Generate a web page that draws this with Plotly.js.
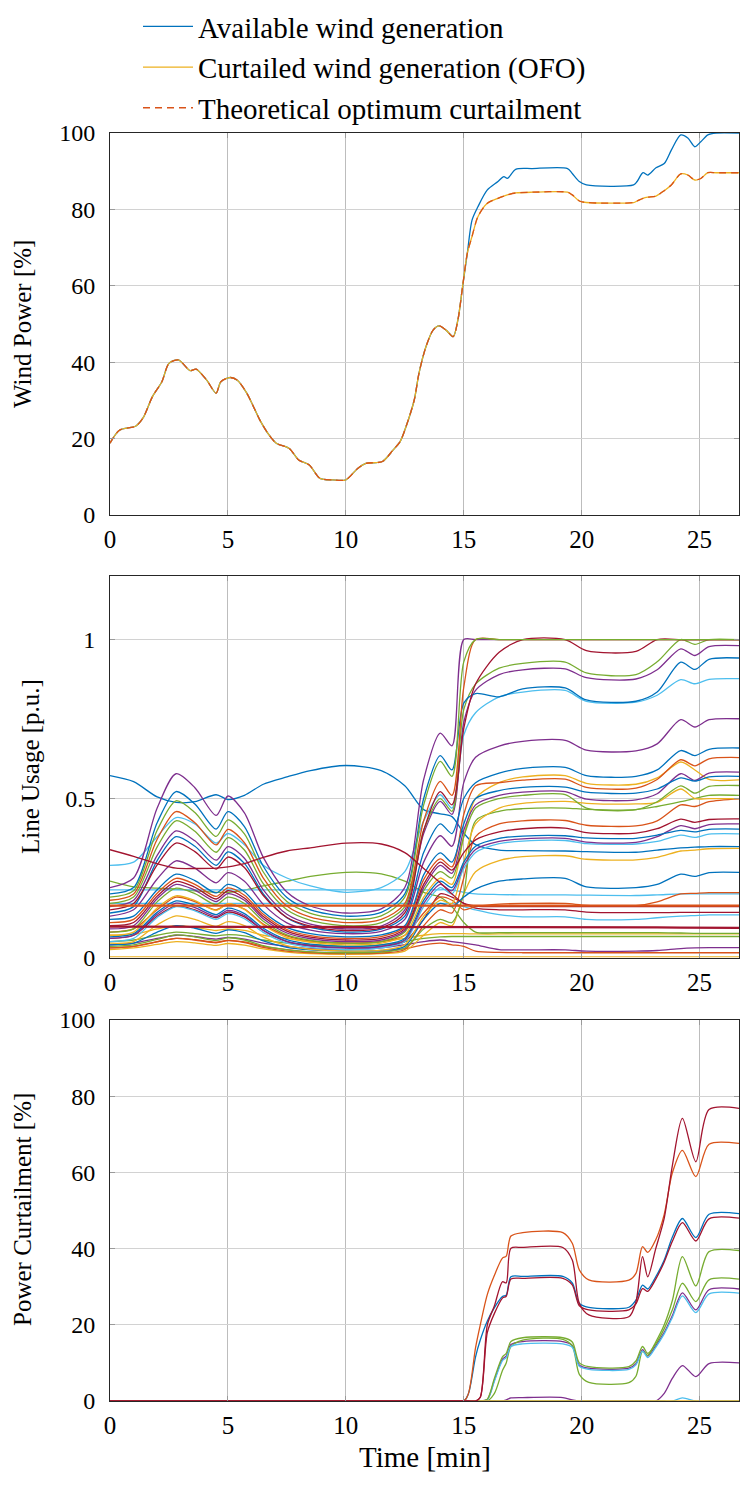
<!DOCTYPE html>
<html>
<head>
<meta charset="utf-8">
<script src="https://cdn.plot.ly/plotly-3.0.1.min.js"></script>
<style>
  html, body { margin: 0; padding: 0; background: #fff; }
  #chart { width: 740px; height: 1486px; }
</style>
</head>
<body>
<div id="chart"></div>
<script>
// MATLAB default colours
const BLUE = '#0072BD', ORANGE = '#D95319', YELLOW = '#EDB120', PURPLE = '#7E2F8E',
      GREEN = '#77AC30', LBLUE = '#4DBEEE', DRED = '#A2142F';

// ---- panel 1 : wind power [%] ----
const timeWind = [0, 0.4, 1.1, 1.4, 1.8, 2.2, 2.5, 2.9, 3.4, 3.65, 4.1, 4.5, 4.7, 5.1, 5.4, 5.8, 6.05, 6.35, 6.75, 7.05,
  7.6, 8.0, 8.45, 8.9, 9.45, 10.0, 10.5, 10.85, 11.55, 12.0, 12.3, 12.55, 12.9, 13.1, 13.4, 13.7, 13.95, 14.25, 14.55, 14.75,
  14.95, 15.15, 15.35, 15.6, 16.0, 16.45, 16.7, 16.85, 17.2, 17.9, 19.4, 19.6, 19.9, 20.2, 22.2, 22.35, 22.6, 22.8, 23.15, 23.5,
  23.8, 24.2, 24.5, 24.8, 25.05, 25.35, 25.7, 26.67];
const availableWind = [18.8, 22.2, 23.3, 25.4, 31, 34.9, 39.7, 40.6, 37.8, 38.2, 35.3, 31.9, 34.9, 36, 35.3, 31.9, 28.8, 24.9, 20.9, 18.8,
  17.4, 14.4, 13.1, 9.6, 9.2, 9.2, 12.2, 13.5, 14, 17, 19.2, 23.1, 30.1, 37.1, 44.1, 48.4, 49.5, 48.4, 46.7, 51,
  59.8, 68.5, 77.2, 80.7, 85.1, 87.3, 88.6, 88.1, 90.5, 90.7, 90.7, 89.4, 87.3, 86.4, 86.4, 87.3, 89.6, 89, 90.9, 92,
  95.5, 99.5, 98.7, 96.4, 97.7, 99.5, 100, 100];
const curtailedOFO = [18.8, 22.2, 23.3, 25.4, 31, 34.9, 39.7, 40.6, 37.8, 38.2, 35.3, 31.9, 34.9, 36, 35.3, 31.9, 28.8, 24.9, 20.9, 18.8,
  17.4, 14.4, 13.1, 9.6, 9.2, 9.2, 12.2, 13.5, 14, 17, 19.2, 23.1, 30.1, 37.1, 44.1, 48.4, 49.5, 48.4, 46.7, 51,
  59.8, 68.5, 72.9, 78.1, 81.6, 82.9, 83.5, 83.8, 84.3, 84.5, 84.5, 83.8, 82.2, 81.8, 81.8, 82.2, 82.9, 83.2, 83.5, 84.9,
  86.4, 89.3, 89, 87.7, 88.1, 89.6, 89.6, 89.6];
const theoreticalOpt = [18.8, 22.2, 23.3, 25.4, 31, 34.9, 39.7, 40.6, 37.8, 38.2, 35.3, 31.9, 34.9, 36, 35.3, 31.9, 28.8, 24.9, 20.9, 18.8,
  17.4, 14.4, 13.1, 9.6, 9.2, 9.2, 12.2, 13.5, 14, 17, 19.2, 23.1, 30.1, 37.1, 44.1, 48.4, 49.5, 48.4, 46.7, 51,
  59.8, 68.5, 72.9, 78.1, 81.6, 82.9, 83.5, 83.8, 84.3, 84.5, 84.5, 83.8, 82.2, 81.8, 81.8, 82.2, 82.9, 83.2, 83.5, 84.9,
  86.4, 89.3, 89, 87.7, 88.1, 89.6, 89.6, 89.6];

// ---- panel 2 : line usage [p.u.] ----
const timeLine = [0, 1, 2, 2.8, 3.6, 4.5, 5.0, 5.7, 6.5, 7.5, 8.5, 10, 11.5, 12.5, 13.3, 14.0, 14.5,
  15.0, 15.5, 16.5, 17.5, 19.3, 20.2, 22.3, 23.2, 24.2, 24.8, 25.4, 26.67];
const lineB0 = [0.572, 0.553, 0.505, 0.488, 0.49, 0.512, 0.497, 0.51, 0.545, 0.568, 0.588, 0.604, 0.588, 0.54, 0.465, 0.452, 0.443,
  0.391, 0.355, 0.338, 0.336, 0.335, 0.333, 0.331, 0.338, 0.345, 0.347, 0.349, 0.349];
const lineB1 = [0.20, 0.22, 0.424, 0.522, 0.483, 0.404, 0.459, 0.412, 0.287, 0.189, 0.15, 0.13, 0.142, 0.2, 0.5, 0.635, 0.59,
  0.80, 0.83, 0.82, 0.845, 0.848, 0.81, 0.806, 0.835, 0.929, 0.906, 0.938, 0.942];
const lineB3 = [0.14, 0.16, 0.305, 0.38, 0.35, 0.29, 0.332, 0.296, 0.20, 0.125, 0.095, 0.08, 0.089, 0.13, 0.33, 0.42, 0.39,
  0.50, 0.55, 0.58, 0.595, 0.598, 0.572, 0.570, 0.59, 0.651, 0.635, 0.655, 0.659];
const lineB4 = [0.12, 0.13, 0.213, 0.262, 0.242, 0.203, 0.23, 0.207, 0.144, 0.095, 0.075, 0.065, 0.071, 0.1, 0.26, 0.329, 0.30,
  0.42, 0.50, 0.525, 0.535, 0.536, 0.52, 0.517, 0.53, 0.565, 0.555, 0.568, 0.570];
const lineB5 = [0.065, 0.075, 0.142, 0.178, 0.164, 0.135, 0.155, 0.138, 0.092, 0.056, 0.042, 0.035, 0.04, 0.06, 0.18, 0.24, 0.22,
  0.30, 0.35, 0.375, 0.382, 0.383, 0.376, 0.375, 0.385, 0.40, 0.395, 0.403, 0.404];
const lineB6 = [0.04, 0.045, 0.08, 0.10, 0.092, 0.076, 0.087, 0.078, 0.052, 0.032, 0.024, 0.02, 0.022, 0.035, 0.12, 0.17, 0.16,
  0.19, 0.215, 0.24, 0.247, 0.249, 0.222, 0.22, 0.23, 0.262, 0.255, 0.267, 0.268];
const lineO1 = [0.18, 0.2, 0.372, 0.459, 0.424, 0.354, 0.403, 0.361, 0.25, 0.162, 0.127, 0.11, 0.12, 0.17, 0.43, 0.554, 0.51,
  0.85, 1.0, 1.0, 1.0, 1.0, 1.0, 1.0, 1.0, 1.0, 1.0, 1.0, 1.0];
const lineO2 = [0.11, 0.12, 0.202, 0.249, 0.23, 0.192, 0.219, 0.196, 0.136, 0.088, 0.069, 0.06, 0.066, 0.095, 0.245, 0.31, 0.285,
  0.45, 0.54, 0.55, 0.558, 0.561, 0.535, 0.533, 0.56, 0.622, 0.603, 0.625, 0.629];
const lineO3 = [0.03, 0.035, 0.049, 0.06, 0.055, 0.046, 0.053, 0.047, 0.032, 0.02, 0.015, 0.012, 0.014, 0.025, 0.10, 0.15, 0.14,
  0.25, 0.38, 0.42, 0.43, 0.431, 0.416, 0.414, 0.43, 0.48, 0.475, 0.49, 0.499];
const lineO4 = [0.08, 0.09, 0.15, 0.19, 0.176, 0.15, 0.168, 0.152, 0.105, 0.068, 0.052, 0.045, 0.05, 0.07, 0.14, 0.19, 0.18,
  0.15, 0.16, 0.168, 0.17, 0.17, 0.164, 0.163, 0.175, 0.2, 0.202, 0.204, 0.204];
const lineO5 = [0.163, 0.163, 0.163, 0.163, 0.163, 0.163, 0.163, 0.163, 0.163, 0.163, 0.163, 0.163, 0.163, 0.163, 0.163, 0.163, 0.163,
  0.163, 0.163, 0.163, 0.163, 0.163, 0.163, 0.163, 0.163, 0.163, 0.163, 0.163, 0.163];
const lineO6 = [0.03, 0.035, 0.05, 0.06, 0.056, 0.048, 0.054, 0.049, 0.035, 0.025, 0.018, 0.015, 0.018, 0.028, 0.04, 0.045, 0.04,
  0.035, 0.02, 0.016, 0.015, 0.015, 0.015, 0.015, 0.015, 0.015, 0.015, 0.015, 0.015];
const lineY1 = [0.07, 0.08, 0.156, 0.194, 0.179, 0.148, 0.169, 0.151, 0.102, 0.063, 0.048, 0.04, 0.045, 0.07, 0.19, 0.25, 0.23,
  0.38, 0.50, 0.55, 0.568, 0.572, 0.548, 0.545, 0.565, 0.615, 0.59, 0.56, 0.559];
const lineY2 = [0.045, 0.05, 0.103, 0.131, 0.12, 0.098, 0.113, 0.10, 0.064, 0.037, 0.026, 0.02, 0.023, 0.04, 0.13, 0.18, 0.17,
  0.30, 0.42, 0.47, 0.485, 0.491, 0.485, 0.483, 0.488, 0.53, 0.50, 0.50, 0.50];
const lineY3 = [0.025, 0.03, 0.041, 0.05, 0.046, 0.038, 0.044, 0.039, 0.027, 0.017, 0.012, 0.01, 0.012, 0.02, 0.07, 0.11, 0.10,
  0.2, 0.27, 0.305, 0.317, 0.32, 0.309, 0.307, 0.315, 0.335, 0.338, 0.342, 0.343];
const lineY4 = [0.07, 0.072, 0.09, 0.1, 0.095, 0.085, 0.09, 0.085, 0.07, 0.06, 0.05, 0.045, 0.05, 0.06, 0.07, 0.075, 0.075,
  0.075, 0.074, 0.074, 0.074, 0.074, 0.074, 0.074, 0.074, 0.074, 0.074, 0.074, 0.074];
const lineY5 = [0.002, 0.002, 0.002, 0.002, 0.002, 0.002, 0.002, 0.002, 0.002, 0.002, 0.002, 0.002, 0.002, 0.002, 0.002, 0.002, 0.002,
  0.002, 0.002, 0.002, 0.002, 0.002, 0.002, 0.002, 0.002, 0.002, 0.002, 0.002, 0.002];
const lineP1 = [0.22, 0.25, 0.47, 0.578, 0.534, 0.447, 0.508, 0.455, 0.315, 0.206, 0.162, 0.14, 0.153, 0.22, 0.56, 0.706, 0.666,
  1.0, 1.0, 1.0, 1.0, 1.0, 1.0, 1.0, 1.0, 1.0, 1.0, 1.0, 1.0];
const lineP2 = [0.16, 0.18, 0.321, 0.398, 0.367, 0.306, 0.349, 0.312, 0.213, 0.136, 0.105, 0.09, 0.099, 0.15, 0.39, 0.491, 0.45,
  0.74, 0.84, 0.89, 0.905, 0.908, 0.88, 0.876, 0.905, 0.971, 0.95, 0.978, 0.981];
const lineP3 = [0.13, 0.15, 0.247, 0.304, 0.281, 0.235, 0.267, 0.24, 0.167, 0.109, 0.086, 0.075, 0.082, 0.12, 0.30, 0.383, 0.35,
  0.55, 0.63, 0.665, 0.68, 0.683, 0.652, 0.650, 0.672, 0.748, 0.725, 0.748, 0.751];
const lineP4 = [0.09, 0.10, 0.185, 0.23, 0.212, 0.176, 0.201, 0.18, 0.122, 0.077, 0.059, 0.05, 0.055, 0.085, 0.22, 0.29, 0.265,
  0.40, 0.48, 0.51, 0.52, 0.522, 0.498, 0.496, 0.515, 0.578, 0.557, 0.58, 0.583];
const lineP5 = [0.06, 0.07, 0.136, 0.171, 0.157, 0.129, 0.148, 0.132, 0.086, 0.051, 0.037, 0.03, 0.035, 0.055, 0.17, 0.23, 0.21,
  0.29, 0.34, 0.365, 0.373, 0.375, 0.363, 0.362, 0.38, 0.415, 0.405, 0.418, 0.42];
const lineP6 = [0.04, 0.045, 0.06, 0.07, 0.066, 0.058, 0.063, 0.058, 0.045, 0.035, 0.028, 0.025, 0.03, 0.04, 0.05, 0.055, 0.05,
  0.045, 0.04, 0.025, 0.024, 0.024, 0.02, 0.02, 0.022, 0.028, 0.03, 0.031, 0.031];
const lineG1 = [0.19, 0.21, 0.40, 0.493, 0.456, 0.381, 0.433, 0.389, 0.269, 0.176, 0.139, 0.12, 0.131, 0.19, 0.48, 0.617, 0.57,
  0.93, 1.0, 1.0, 1.0, 1.0, 1.0, 1.0, 1.0, 1.0, 1.0, 1.0, 1.0];
const lineG2 = [0.17, 0.19, 0.348, 0.43, 0.397, 0.331, 0.377, 0.338, 0.232, 0.15, 0.117, 0.10, 0.11, 0.16, 0.40, 0.50, 0.46,
  0.78, 0.86, 0.91, 0.925, 0.929, 0.895, 0.89, 0.93, 1.0, 0.985, 1.0, 1.0];
const lineG3 = [0.08, 0.09, 0.175, 0.218, 0.201, 0.166, 0.19, 0.17, 0.114, 0.071, 0.054, 0.045, 0.05, 0.08, 0.21, 0.27, 0.25,
  0.38, 0.47, 0.50, 0.51, 0.512, 0.47, 0.465, 0.49, 0.54, 0.517, 0.538, 0.541];
const lineG4 = [0.035, 0.04, 0.057, 0.071, 0.065, 0.054, 0.062, 0.055, 0.037, 0.024, 0.018, 0.015, 0.017, 0.03, 0.09, 0.12, 0.11,
  0.2, 0.43, 0.46, 0.468, 0.47, 0.466, 0.465, 0.475, 0.49, 0.50, 0.51, 0.51];
const lineG5 = [0.24, 0.222, 0.218, 0.215, 0.21, 0.205, 0.205, 0.212, 0.225, 0.24, 0.255, 0.268, 0.263, 0.24, 0.205, 0.19, 0.16,
  0.11, 0.08, 0.078, 0.078, 0.078, 0.078, 0.078, 0.078, 0.077, 0.076, 0.076, 0.076];
const lineG6 = [0.05, 0.055, 0.07, 0.08, 0.075, 0.068, 0.072, 0.068, 0.055, 0.045, 0.04, 0.035, 0.04, 0.05, 0.06, 0.065, 0.066,
  0.066, 0.066, 0.066, 0.066, 0.066, 0.066, 0.066, 0.066, 0.066, 0.066, 0.066, 0.066];
const lineC1 = [0.29, 0.30, 0.38, 0.44, 0.42, 0.36, 0.39, 0.355, 0.29, 0.25, 0.225, 0.205, 0.22, 0.27, 0.43, 0.512, 0.47,
  0.70, 0.77, 0.82, 0.835, 0.84, 0.806, 0.803, 0.825, 0.874, 0.861, 0.875, 0.877];
const lineC2 = [0.05, 0.06, 0.126, 0.16, 0.147, 0.12, 0.138, 0.122, 0.079, 0.045, 0.032, 0.025, 0.03, 0.05, 0.16, 0.22, 0.20,
  0.28, 0.33, 0.358, 0.366, 0.368, 0.358, 0.357, 0.365, 0.385, 0.378, 0.388, 0.389];
const lineC3 = [0.213, 0.213, 0.213, 0.213, 0.213, 0.213, 0.213, 0.213, 0.213, 0.213, 0.213, 0.213, 0.213, 0.213, 0.213, 0.213, 0.213,
  0.205, 0.2, 0.198, 0.197, 0.197, 0.196, 0.195, 0.197, 0.2, 0.2, 0.2, 0.2];
const lineC4 = [0.17, 0.17, 0.17, 0.17, 0.17, 0.17, 0.17, 0.17, 0.17, 0.17, 0.17, 0.17, 0.17, 0.17, 0.17, 0.17, 0.17,
  0.16, 0.15, 0.135, 0.128, 0.128, 0.12, 0.12, 0.125, 0.13, 0.132, 0.134, 0.134];
const lineR0 = [0.339, 0.318, 0.295, 0.281, 0.28, 0.281, 0.285, 0.295, 0.315, 0.335, 0.345, 0.36, 0.357, 0.33, 0.28, 0.235, 0.2,
  0.17, 0.162, 0.16, 0.16, 0.16, 0.16, 0.16, 0.16, 0.16, 0.16, 0.16, 0.16];
const lineR1 = [0.15, 0.17, 0.291, 0.36, 0.333, 0.278, 0.316, 0.283, 0.195, 0.126, 0.099, 0.085, 0.093, 0.14, 0.40, 0.522, 0.48,
  0.72, 0.86, 0.96, 1.0, 1.0, 0.965, 0.963, 1.0, 1.0, 1.0, 1.0, 1.0];
const lineR2 = [0.10, 0.11, 0.193, 0.239, 0.221, 0.184, 0.21, 0.187, 0.129, 0.083, 0.064, 0.055, 0.06, 0.09, 0.23, 0.30, 0.275,
  0.33, 0.37, 0.395, 0.405, 0.407, 0.393, 0.391, 0.405, 0.435, 0.425, 0.434, 0.436];
const lineR3 = [0.06, 0.07, 0.13, 0.162, 0.15, 0.125, 0.143, 0.128, 0.085, 0.05, 0.037, 0.03, 0.035, 0.05, 0.12, 0.2, 0.19,
  0.17, 0.155, 0.15, 0.15, 0.15, 0.143, 0.141, 0.141, 0.142, 0.142, 0.142, 0.142];
const lineR4 = [0.097, 0.097, 0.097, 0.097, 0.097, 0.097, 0.097, 0.097, 0.097, 0.097, 0.097, 0.097, 0.097, 0.097, 0.097, 0.097, 0.097,
  0.097, 0.097, 0.097, 0.097, 0.097, 0.097, 0.097, 0.095, 0.094, 0.094, 0.093, 0.093];

// ---- panel 3 : power curtailment [%] ----
const timeCurt = [0, 15.0, 15.2, 15.5, 15.7, 16.0, 16.3, 16.64, 16.8, 17.0, 17.5, 19.2, 19.6, 19.9, 20.3, 22.0, 22.3,
  22.58, 22.8, 23.14, 23.5, 23.85, 24.27, 24.84, 25.4, 26.67];
const curtBlue   = [0, 0, 2, 11.6, 16, 21, 24.5, 27.4, 27.8, 32.6, 32.7, 32.7, 31, 25.6, 24.6, 24.6, 26.5, 30.4, 29.4, 32.6, 37, 43.1, 47.9, 42.9, 49, 49.2];
const curtOrange = [0, 0, 2, 14, 20, 28, 33, 37.5, 38, 43.3, 44.2, 44.2, 41.4, 34.4, 31.8, 31.7, 33.5, 40.5, 39, 42.3, 49, 60, 65.8, 58.9, 67.4, 67.6];
const curtYellow = [0, 0, 0, 0, 0, 0, 0, 0, 0, 0, 0, 0, 0, 0, 0, 0, 0, 0, 0, 0, 0, 0, 0, 0, 0, 0];
const curtPurple1 = [0, 0, 0, 0, 0, 0.4, 5.5, 11, 11.8, 14.8, 15.6, 15.6, 14.6, 9.4, 8.6, 8.6, 9.8, 13.5, 11.8, 14.5, 18, 22.5, 28.4, 23.9, 29.2, 29.4];
const curtPurple2 = [0, 0, 0, 0, 0, 0, 0, 0, 0.3, 0.8, 0.9, 0.9, 0.3, 0, 0, 0, 0, 0, 0, 0, 2, 6, 9.3, 6.4, 9.8, 10];
const curtGreen1 = [0, 0, 0, 0, 0, 0, 2, 8, 10, 14.3, 16.0, 16.2, 14.5, 7, 4.9, 4.8, 6.5, 13, 12, 15.5, 20, 26.5, 37.9, 30.2, 39.2, 39.5];
const curtGreen2 = [0, 0, 0, 0, 0, 0.5, 6, 11.6, 12.5, 15.6, 16.6, 16.6, 15.5, 10, 9.0, 9.0, 10.5, 14.3, 12.5, 15, 19, 24, 30.9, 26.1, 31.8, 32];
const curtLBlue1 = [0, 0, 0, 0, 0, 0.3, 5.2, 10.6, 11.4, 14.3, 15.0, 15.0, 14.1, 9.1, 8.3, 8.3, 9.5, 13.1, 11.4, 14.1, 17.6, 22, 27.6, 23.2, 28.1, 28.3];
const curtLBlue2 = [0, 0, 0, 0, 0, 0, 0, 0, 0, 0, 0, 0, 0, 0, 0, 0, 0, 0, 0, 0, 0, 0, 0.8, 0, 0, 0];
const curtRed1   = [0, 0, 0, 0, 1, 20, 25, 31.3, 31, 40.1, 40.3, 40.3, 37, 25.6, 22.6, 22.1, 26, 37.9, 32.6, 40, 48, 62, 74.2, 62.8, 76.5, 76.8];
const curtRed2   = [0, 0, 0, 0, 1, 18, 23, 27, 27.5, 32, 32.2, 32.2, 30.5, 25, 23.9, 23.9, 25.5, 29.5, 28.8, 32, 36.5, 42, 46.8, 42, 47.8, 48];

const SERIF = '"Liberation Serif", "Times New Roman", Times, serif';
const traces = [];

function addLine(x, y, color, axisNo, extra) {
  const t = {
    x: x, y: y, type: 'scatter', mode: 'lines',
    xaxis: axisNo === 1 ? 'x' : 'x' + axisNo,
    yaxis: axisNo === 1 ? 'y' : 'y' + axisNo,
    line: { color: color, width: 1.3, shape: 'spline', smoothing: 0.8 },
    showlegend: false, hoverinfo: 'skip'
  };
  Object.assign(t, extra || {});
  traces.push(t);
}

// panel 1
addLine(timeWind, availableWind, BLUE, 1, { name: 'Available wind generation', showlegend: true, legendgroup: 'a' });
addLine(timeWind, curtailedOFO, YELLOW, 1, { name: 'Curtailed wind generation (OFO)', showlegend: true, legendgroup: 'b' });
addLine(timeWind, theoreticalOpt, ORANGE, 1, {
  name: 'Theoretical optimum curtailment', showlegend: true, legendgroup: 'c',
  line: { color: ORANGE, width: 1.3, dash: '7px,5px', shape: 'spline', smoothing: 0.8 }
});

// panel 2 (drawing order roughly follows the colour cycle)
const usageSeries = [
  [lineY5, YELLOW], [lineO6, ORANGE], [lineP6, PURPLE], [lineG6, GREEN], [lineY4, YELLOW],
  [lineG5, GREEN], [lineC4, LBLUE], [lineC3, LBLUE], [lineR3, DRED], [lineO4, ORANGE],
  [lineB0, BLUE], [lineY3, YELLOW], [lineO3, ORANGE], [lineG4, GREEN], [lineB6, BLUE],
  [lineY2, YELLOW], [lineC2, LBLUE], [lineP5, PURPLE], [lineB5, BLUE], [lineY1, YELLOW],
  [lineG3, GREEN], [lineP4, PURPLE], [lineR2, DRED], [lineO2, ORANGE], [lineB4, BLUE],
  [lineP3, PURPLE], [lineB3, BLUE], [lineC1, LBLUE], [lineP2, PURPLE], [lineG2, GREEN],
  [lineB1, BLUE], [lineP1, PURPLE], [lineO1, ORANGE], [lineR1, DRED], [lineG1, GREEN],
  [lineR0, DRED]
];
usageSeries.forEach(s => addLine(timeLine, s[0], s[1], 2));
addLine(timeLine, lineO5, ORANGE, 2, { line: { color: ORANGE, width: 2.2 } });
addLine(timeLine, lineR4, DRED, 2, { line: { color: DRED, width: 2.2 } });

// panel 3
const curtSeries = [
  [curtBlue, BLUE], [curtOrange, ORANGE], [curtPurple1, PURPLE], [curtGreen1, GREEN],
  [curtLBlue1, LBLUE], [curtGreen2, GREEN], [curtPurple2, PURPLE], [curtLBlue2, LBLUE],
  [curtYellow, YELLOW], [curtRed2, DRED], [curtRed1, DRED]
];
curtSeries.forEach(s => addLine(timeCurt, s[0], s[1], 3));

const H = 1486, W = 740, L = 110, R = 1;
const py = p => 1 - p / H;             // pixel row -> paper y
const px = p => (p - L) / (W - L - R); // pixel col -> paper x

function xAxis(anchor) {
  return {
    anchor: anchor, domain: [0, 1], range: [0, 26.67],
    tickvals: [0, 5, 10, 15, 20, 25], ticks: 'inside', ticklen: 5, tickcolor: '#9a9a9a',
    showline: true, linecolor: '#262626', linewidth: 1, mirror: 'ticks',
    showgrid: true, gridcolor: '#bdbdbd', gridwidth: 1, zeroline: false,
    tickfont: { family: SERIF, size: 25, color: '#000' }, ticklabelstandoff: 2
  };
}
function yAxis(anchor, dom, range, extra) {
  return Object.assign({
    anchor: anchor, domain: dom, range: range,
    ticks: 'inside', ticklen: 5, tickcolor: '#9a9a9a',
    showline: true, linecolor: '#262626', linewidth: 1, mirror: 'ticks',
    showgrid: true, gridcolor: '#d2d2d2', gridwidth: 1, zeroline: false,
    tickfont: { family: SERIF, size: 24, color: '#000' }, ticklabelstandoff: 9
  }, extra);
}

const layout = {
  width: W, height: H,
  margin: { l: L, r: R, t: 0, b: 0 },
  paper_bgcolor: '#fff', plot_bgcolor: '#fff',
  font: { family: SERIF, size: 22, color: '#000' },
  showlegend: true,
  legend: {
    x: px(138), y: py(1), xanchor: 'left', yanchor: 'top',
    bgcolor: 'rgba(0,0,0,0)', traceorder: 'grouped', tracegroupgap: 0,
    font: { family: SERIF, size: 29, color: '#000' }, itemwidth: 50
  },
  xaxis: xAxis('y'),
  yaxis: yAxis('x', [py(515), py(133)], [0, 100], { tickvals: [0, 20, 40, 60, 80, 100] }),
  xaxis2: xAxis('y2'),
  yaxis2: yAxis('x2', [py(957.5), py(576)], [0, 1.2], { tickvals: [0, 0.5, 1], ticktext: ['0', '0.5', '1'] }),
  xaxis3: xAxis('y3'),
  yaxis3: yAxis('x3', [py(1401), py(1020)], [0, 100], { tickvals: [0, 20, 40, 60, 80, 100] }),
  annotations: [
    { text: 'Wind Power [%]', x: px(22), y: py(324), textangle: -90, font: { family: SERIF, size: 25, color: '#000' } },
    { text: 'Line Usage [p.u.]', x: px(30), y: py(767), textangle: -90, font: { family: SERIF, size: 25, color: '#000' } },
    { text: 'Power Curtailment [%]', x: px(22), y: py(1210), textangle: -90, font: { family: SERIF, size: 25, color: '#000' } },
    { text: 'Time [min]', x: px(425), y: py(1457), font: { family: SERIF, size: 29, color: '#000' } }
  ].map(a => Object.assign({
    xref: 'paper', yref: 'paper', showarrow: false, xanchor: 'center', yanchor: 'middle'
  }, a))
};

Plotly.newPlot('chart', traces, layout, { staticPlot: true, displayModeBar: false });
</script>
</body>
</html>
